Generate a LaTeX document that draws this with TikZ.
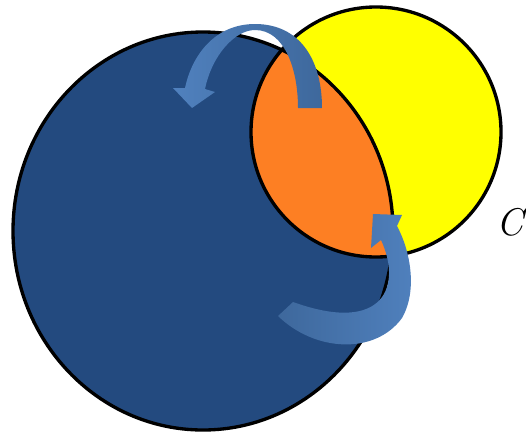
\documentclass[tikz,border=0pt]{standalone}
\usepackage{fontspec}
\begin{document}
\begin{tikzpicture}[x=0.02cm,y=-0.02cm,
	ring/.style={draw=black,line width=1.9pt},
	bentarrow/.style={shade,shading angle=0}
]
\definecolor{deepblue}{RGB}{35,74,127}
\definecolor{sun}{RGB}{255,255,0}
\definecolor{overlap}{RGB}{253,127,35}
\definecolor{arrowlight}{RGB}{80,129,190}
\definecolor{arrowdark}{RGB}{62,104,156}

	\useasboundingbox (0,0) rectangle (526,433);

	\coordinate (big) at (203,231);
	\coordinate (small) at (376,132);

	\fill[deepblue] (big) circle [x radius=190, y radius=199];
	\fill[sun] (small) circle [radius=125];
	\begin{scope}
		\clip (big) circle [x radius=190, y radius=199];
		\fill[overlap] (small) circle [radius=125];
	\end{scope}
	\draw[ring] (big) circle [x radius=190, y radius=199];
	\draw[ring] (small) circle [radius=125];

	% arrow over the top
	\path[bentarrow,left color=arrowlight,right color=arrowdark]
		(298,108) -- (322,108)
		.. controls (322,60) and (300,24) .. (255,24)
		.. controls (215,24) and (192,55) .. (185,88)
		-- (173,88) -- (192,108) -- (215,92) -- (205,89)
		.. controls (212,55) and (235,30) .. (255,30)
		.. controls (285,30) and (298,70) .. cycle;

	% arrow round the bottom
	\path[bentarrow,left color=arrowdark,right color=arrowlight]
		(293,302) -- (278,316)
		.. controls (315,352) and (375,355) .. (402,318)
		.. controls (418,290) and (410,250) .. (397,226)
		-- (402,215) -- (373,214) -- (371,248) -- (381,240)
		.. controls (402,285) and (385,335) .. cycle;

	\node[anchor=west,inner sep=0pt] (lab) at (496,222) {\fontsize{22}{26}\selectfont\itshape C};

\end{tikzpicture}
\end{document}
